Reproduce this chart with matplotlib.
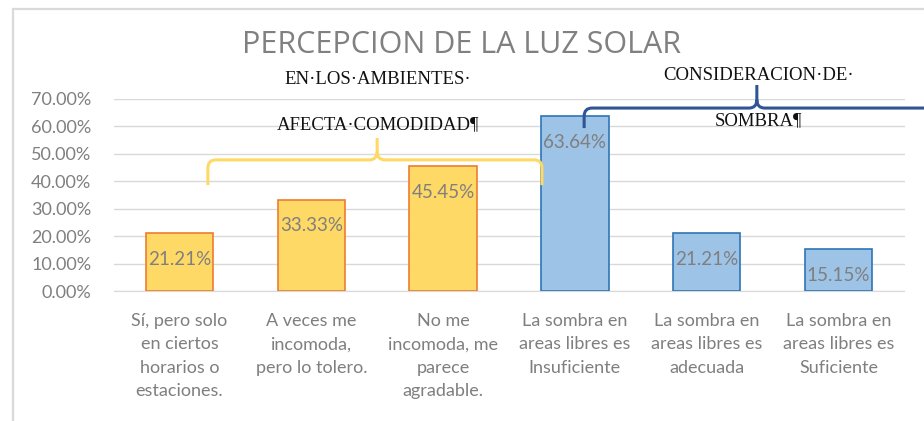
import matplotlib
matplotlib.use("Agg")
import matplotlib.pyplot as plt
from matplotlib.path import Path
from matplotlib.patches import PathPatch, Rectangle
from matplotlib.ticker import FuncFormatter, MultipleLocator

categories = [
    "Sí, pero solo\nen ciertos\nhorarios o\nestaciones.",
    "A veces me\nincomoda,\npero lo tolero.",
    "No me\nincomoda, me\nparece\nagradable.",
    "La sombra en\nareas libres es\nInsuficiente",
    "La sombra en\nareas libres es\nadecuada",
    "La sombra en\nareas libres es\nSuficiente",
]
values = [0.2121, 0.3333, 0.4545, 0.6364, 0.2121, 0.1515]
group = ["comodidad", "comodidad", "comodidad", "sombra", "sombra", "sombra"]

title = "PERCEPCION DE LA LUZ SOLAR"
group_titles = {
    "comodidad": ["EN·LOS·AMBIENTES·", "AFECTA·COMODIDAD¶"],
    "sombra": ["CONSIDERACION·DE·", "SOMBRA¶"],
}

fills = {"comodidad": "#FFD966", "sombra": "#9DC3E6"}
edges = {"comodidad": "#ED7D31", "sombra": "#2E75B6"}
brace_colors = {"comodidad": "#FFD966", "sombra": "#2F5597"}

sans = ["Lato", "DejaVu Sans"]
gray = "#7F7F7F"

fig = plt.figure(figsize=(9.24, 4.21), dpi=100)
fig.patches.append(Rectangle((13 / 924, -0.1), 1.2, 1 - 9 / 421 + 0.1,
                             transform=fig.transFigure, fill=False,
                             edgecolor="#DADADA", linewidth=1.6))

ax = fig.add_axes([113.5 / 924, 1 - 291 / 421, 791 / 924, 192 / 421])
x = list(range(len(values)))
bars = ax.bar(x, values, width=0.51,
              color=[fills[g] for g in group],
              edgecolor=[edges[g] for g in group], linewidth=1.2, zorder=3)

for xi, v in zip(x, values):
    ax.annotate(f"{v * 100:.2f}%", (xi, v), xytext=(0, -19),
                textcoords="offset points", ha="center", va="center",
                fontsize=13.5, color=gray, family=sans, zorder=4)

ax.set_xlim(-0.5, len(values) - 0.5)
ax.set_ylim(0, 0.70)
ax.yaxis.set_major_locator(MultipleLocator(0.10))
ax.yaxis.set_major_formatter(FuncFormatter(lambda v, p: f"{v * 100:.2f}%"))
ax.grid(axis="y", color="#D9D9D9", linewidth=1.0, zorder=0)
for s in ["top", "right", "left"]:
    ax.spines[s].set_visible(False)
ax.spines["bottom"].set_color("#D9D9D9")
ax.tick_params(axis="both", length=0, colors=gray, labelsize=13)
ax.tick_params(axis="y", pad=16)
ax.tick_params(axis="x", pad=16)
ax.set_xticks(x)
ax.set_xticklabels(categories, linespacing=1.55)
for lab in ax.get_xticklabels() + ax.get_yticklabels():
    lab.set_family(sans)

fig.text(461 / 924, 1 - 45 / 421, title, ha="center", va="center",
         fontsize=22, color="#808080", family=["Open Sans", "DejaVu Sans"])


def brace(x0, x1, xm, y_bar, y_end, y_tip, color, r=0.06, ry=0.03):
    verts = [(x0, y_end), (x0, y_bar - ry), (x0, y_bar), (x0 + r, y_bar),
             (xm - r, y_bar), (xm, y_bar), (xm, y_bar + ry), (xm, y_tip),
             (xm, y_bar + ry), (xm, y_bar), (xm + r, y_bar),
             (x1 - r, y_bar), (x1, y_bar), (x1, y_bar - ry), (x1, y_end)]
    codes = [Path.MOVETO, Path.LINETO, Path.CURVE3, Path.CURVE3,
             Path.LINETO, Path.CURVE3, Path.CURVE3, Path.LINETO,
             Path.MOVETO, Path.CURVE3, Path.CURVE3,
             Path.LINETO, Path.CURVE3, Path.CURVE3, Path.LINETO]
    ax.add_patch(PathPatch(Path(verts, codes), fill=False, edgecolor=color,
                           linewidth=2.2, clip_on=False, zorder=5,
                           capstyle="butt", joinstyle="round"))


brace(0.216, 2.75, 1.5, 0.478, 0.386, 0.558, brace_colors["comodidad"])
brace(3.07, 5.75, 4.38, 0.667, 0.594, 0.751, brace_colors["sombra"])

serif = ["Liberation Serif", "DejaVu Serif"]
for (gx, y1, y2), key in [((378, 80, 125), "comodidad"), ((759, 76, 121), "sombra")]:
    lines = group_titles[key]
    fig.text(gx / 924, 1 - y1 / 421, lines[0], ha="center", va="center",
             fontsize=13.5, color="#111111", family=serif)
    fig.text(gx / 924, 1 - y2 / 421, lines[1], ha="center", va="center",
             fontsize=13.5, color="#111111", family=serif)

fig.savefig("out.png", dpi=100)
